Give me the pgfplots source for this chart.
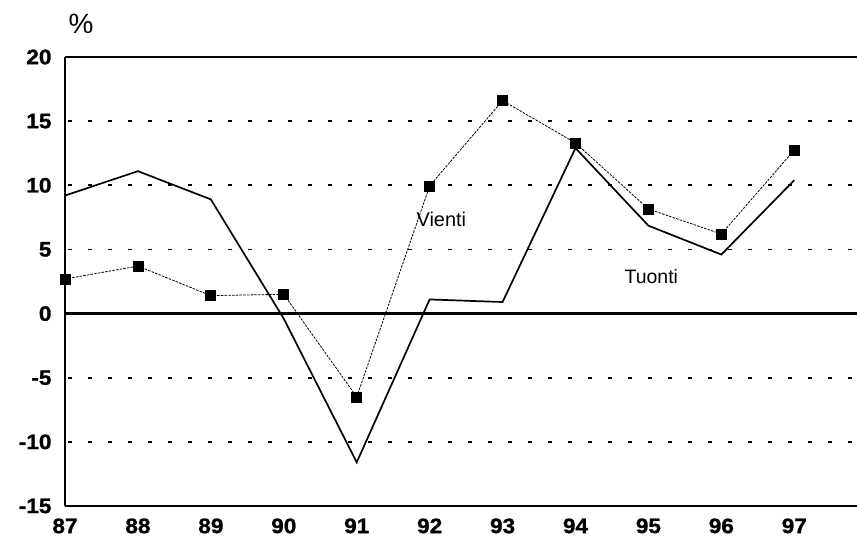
\documentclass[border=0pt]{standalone}
\usepackage{pgfplots}
\pgfplotsset{compat=1.18}
\usepackage{fontspec}
\setmainfont{Liberation Sans}
\newfontfamily\tickfont{Liberation Sans Bold}[FakeStretch=1.08, FakeBold=1.2]
\begin{document}
\begin{tikzpicture}
\useasboundingbox (-65bp,-41bp) rectangle (792bp,506bp);
\begin{axis}[
  at={(0,0)}, anchor=south west,
  scale only axis, width=792bp, height=449bp,
  xmin=87, xmax=97.86, ymin=-15, ymax=20,
  axis line style={line width=2.6pt},
  separate axis lines,
  axis x line*=bottom, axis y line*=left,
  xtick={87,88,89,90,91,92,93,94,95,96,97},
  ytick={-15,-10,-5,0,5,10,15,20},
  major tick length=0pt,
  /pgf/number format/assume math mode=true,
  tick label style={font=\tickfont\fontsize{21}{21}\selectfont},
  yticklabel style={xshift=-10bp},
  xticklabel style={yshift=-9bp},
  clip=false,
]
% grid lines
\foreach \yy in {-10,-5,5,10,15} {
  \edef\tmp{\noexpand\draw[line width=1.6pt, dash pattern=on 3.5bp off 16.5bp, dash phase=17bp] (axis cs:87,\yy) -- (axis cs:97.86,\yy);}
  \tmp
}
\draw[line width=2.3pt] (axis cs:87,0) -- (axis cs:97.86,0);
\draw[line width=2.6pt] (axis cs:87,20) -- (axis cs:97.86,20);
% Tuonti
\addplot[black, line width=1.7pt, mark=none] coordinates {
(87,9.2) (88,11.1) (89,8.9) (90,-0.4) (91,-11.6) (92,1.1) (93,0.9) (94,12.9) (95,6.85) (96,4.6) (97,10.4)
};
% Vienti
\addplot[black, line width=0.8pt, dash pattern=on 2.5bp off 1.2bp, mark=square*, mark size=5bp, mark options={solid, fill=black}] coordinates {
(87,2.7) (88,3.7) (89,1.4) (90,1.5) (91,-6.5) (92,9.95) (93,16.6) (94,13.3) (95,8.15) (96,6.2) (97,12.75)
};
\node[font=\fontsize{20}{20}\selectfont] at (axis cs:92.16,7.37) {Vienti};
\node[font=\fontsize{19.5}{19.5}\selectfont] at (axis cs:95.04,2.85) {Tuonti};
\node[font=\fontsize{28}{28}\selectfont] at (axis cs:87.22,22.55) {\%};
\end{axis}
\end{tikzpicture}
\end{document}
